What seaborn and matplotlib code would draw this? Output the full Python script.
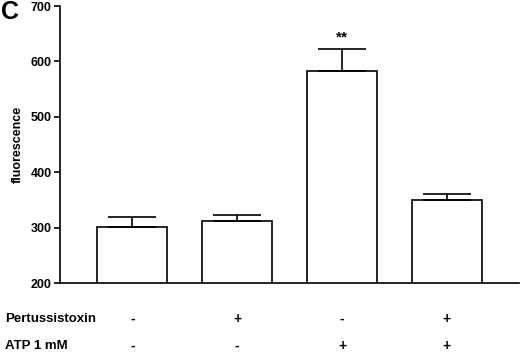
import matplotlib
matplotlib.use("Agg")
import matplotlib.pyplot as plt
import seaborn as sns
import pandas as pd
import numpy as np

conditions = ["ctrl", "PTX", "ATP", "PTX+ATP"]
means = [302, 312, 582, 350]
sem = [18, 11, 41, 10]
pertussis = ["-", "+", "-", "+"]
atp = ["-", "-", "+", "+"]

sns.set_theme(style="ticks")
plt.rcParams["font.family"] = ["Liberation Sans", "DejaVu Sans"]
plt.rcParams["font.weight"] = "bold"
plt.rcParams["text.color"] = "black"
plt.rcParams["axes.labelcolor"] = "black"
plt.rcParams["ytick.color"] = "black"
plt.rcParams["ytick.labelcolor"] = "black"

df = pd.DataFrame({"cond": conditions, "val": means})

fig = plt.figure(figsize=(5.2, 3.56), dpi=100)
ax = fig.add_axes([0.1154, 0.205, 0.883, 0.778])

sns.barplot(data=df, x="cond", y="val", ax=ax, color="white",
            edgecolor="black", linewidth=1.2, width=0.67, errorbar=None)
xs = np.arange(len(conditions))
ax.errorbar(xs, means, yerr=[np.zeros(len(sem)), sem], fmt="none",
            ecolor="black", elinewidth=1.2, capsize=17, capthick=1.2)

ax.set_ylim(200, 700)
ax.set_xlim(-0.69, 3.69)
ax.set_yticks([200, 300, 400, 500, 600, 700])
ax.set_xticks([])
ax.set_xlabel("")
ax.set_ylabel("fluorescence", fontsize=9, fontweight="bold", labelpad=5,
              color="black")
for lab in ax.get_yticklabels():
    lab.set_fontweight("bold")
ax.tick_params(axis="y", labelsize=9, length=4, width=1.2, pad=2,
               color="black", labelcolor="black")
sns.despine(ax=ax)
for s in ["left", "bottom"]:
    ax.spines[s].set_linewidth(1.2)
    ax.spines[s].set_color("black")

ax.text(2, means[2] + sem[2] + 7, "**", ha="center", va="bottom",
        fontsize=11, fontweight="bold", color="black")

# condition rows
row1_px = 319
row2_px = 346
trans = ax.get_xaxis_transform()
fig.text(5 / 520, 1 - row1_px / 356, "Pertussistoxin", ha="left", va="center",
         fontsize=9.5, fontweight="bold", color="black")
fig.text(5 / 520, 1 - row2_px / 356, "ATP 1 mM", ha="left", va="center",
         fontsize=9.5, fontweight="bold", color="black")
y1 = (row1_px - 283) / (283 - 6)
y2 = (row2_px - 283) / (283 - 6)
for i in range(len(conditions)):
    ax.text(xs[i], -y1, pertussis[i], transform=trans, ha="center",
            va="center", fontsize=10, fontweight="bold", clip_on=False,
            color="black")
    ax.text(xs[i], -y2, atp[i], transform=trans, ha="center",
            va="center", fontsize=10, fontweight="bold", clip_on=False,
            color="black")

fig.text(1 / 520, 1 - 12 / 356, "C", ha="left", va="center",
         fontsize=18, fontweight="bold", color="black")

fig.savefig("out.png", dpi=100, facecolor="white")
